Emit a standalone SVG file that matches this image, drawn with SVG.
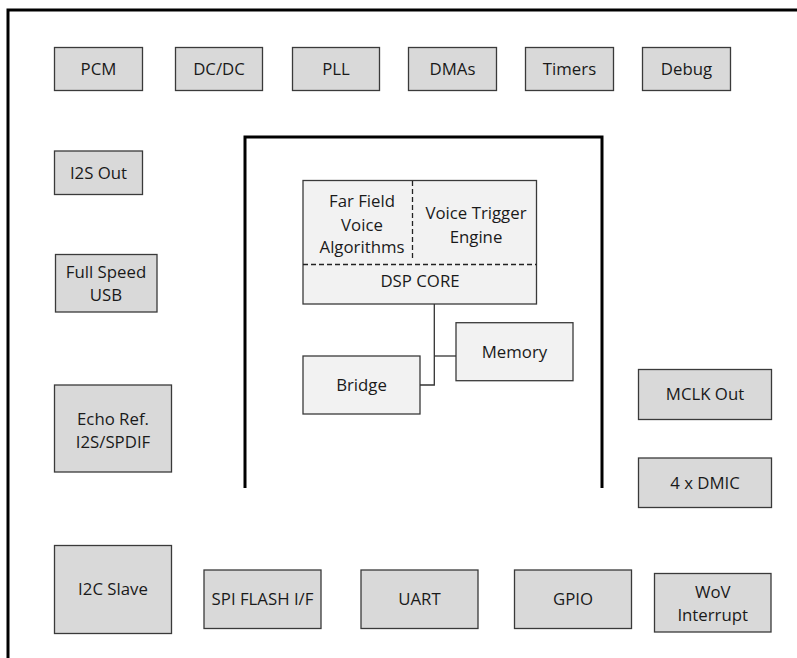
<svg xmlns="http://www.w3.org/2000/svg" width="797" height="658" viewBox="0 0 797 658">
<style>
.n{fill:#d9d9d9;stroke:#3a3a3a;stroke-width:1.3}
.c{fill:#f2f2f2;stroke:#3a3a3a;stroke-width:1.3}
text{font-family:"Open Sans","Liberation Sans",sans-serif;font-size:16.8px;fill:#1a1a1a;text-anchor:middle}
.frame{fill:none;stroke:#000;stroke-width:3}
.dash{fill:none;stroke:#222;stroke-width:1.3;stroke-dasharray:5 3}
.w{fill:none;stroke:#333;stroke-width:1.3}
</style>
<rect width="797" height="658" fill="#fff"/>
<g id="frame">
<polyline class="frame" points="8,658 8,10 797,10"/>
</g>
<g id="soc">
<polyline class="frame" points="245,488 245,137 602,137 602,488"/>
</g>
<g id="pcm"><rect class="n" x="54.5" y="47.5" width="88" height="43"/><text x="98.5" y="75">PCM</text></g>
<g id="dcdc"><rect class="n" x="175.5" y="47.5" width="87" height="43"/><text x="219" y="75">DC/DC</text></g>
<g id="pll"><rect class="n" x="292.5" y="47.5" width="87" height="43"/><text x="336" y="75">PLL</text></g>
<g id="dmas"><rect class="n" x="408.5" y="47.5" width="88" height="43"/><text x="452.5" y="75">DMAs</text></g>
<g id="timers"><rect class="n" x="525.5" y="47.5" width="88" height="43"/><text x="569.5" y="75">Timers</text></g>
<g id="debug"><rect class="n" x="642.5" y="47.5" width="88" height="43"/><text x="686.5" y="75">Debug</text></g>
<g id="i2sout"><rect class="n" x="54.5" y="151" width="88" height="43.5"/><text x="98.5" y="179">I2S Out</text></g>
<g id="usb"><rect class="n" x="55.5" y="254.5" width="101.5" height="57.5"/><text x="106" y="278">Full Speed</text><text x="106" y="301">USB</text></g>
<g id="echo"><rect class="n" x="54.5" y="385" width="117" height="87"/><text x="113" y="425">Echo Ref.</text><text x="113" y="448">I2S/SPDIF</text></g>
<g id="i2c"><rect class="n" x="54.5" y="545.5" width="117" height="88"/><text x="113" y="595">I2C Slave</text></g>
<g id="spi"><rect class="n" x="204" y="570" width="117" height="58.5"/><text x="262.5" y="605">SPI FLASH I/F</text></g>
<g id="uart"><rect class="n" x="361" y="570" width="117" height="58.5"/><text x="419.5" y="605">UART</text></g>
<g id="gpio"><rect class="n" x="514.5" y="570" width="117" height="58.5"/><text x="573" y="605">GPIO</text></g>
<g id="wov"><rect class="n" x="654.5" y="573.5" width="116.5" height="58.5"/><text x="712.7" y="598">WoV</text><text x="712.7" y="621">Interrupt</text></g>
<g id="mclk"><rect class="n" x="638.5" y="369.5" width="133" height="50"/><text x="705" y="400">MCLK Out</text></g>
<g id="dmic"><rect class="n" x="638.5" y="458" width="133" height="49.5"/><text x="705" y="489">4 x DMIC</text></g>
<g id="dsp">
<rect class="c" x="303" y="180.5" width="233.5" height="123.5"/>
<line class="dash" x1="412.5" y1="181" x2="412.5" y2="258"/>
<line class="dash" x1="303" y1="264.5" x2="536.5" y2="264.5"/>
<text x="362" y="207">Far Field</text><text x="362" y="231">Voice</text><text x="362" y="253">Algorithms</text>
<text x="476" y="219">Voice Trigger</text><text x="476" y="243">Engine</text>
<text x="420" y="287">DSP CORE</text>
</g>
<g id="memory"><rect class="c" x="456" y="322.7" width="117" height="58"/><text x="514.5" y="358">Memory</text></g>
<g id="bridge"><rect class="c" x="303" y="356" width="117" height="58"/><text x="361.5" y="391">Bridge</text></g>
<g id="connectors">
<polyline class="w" points="434.3,304 434.3,385 420,385"/>
<line class="w" x1="434.3" y1="356" x2="456" y2="356"/>
</g>
</svg>
